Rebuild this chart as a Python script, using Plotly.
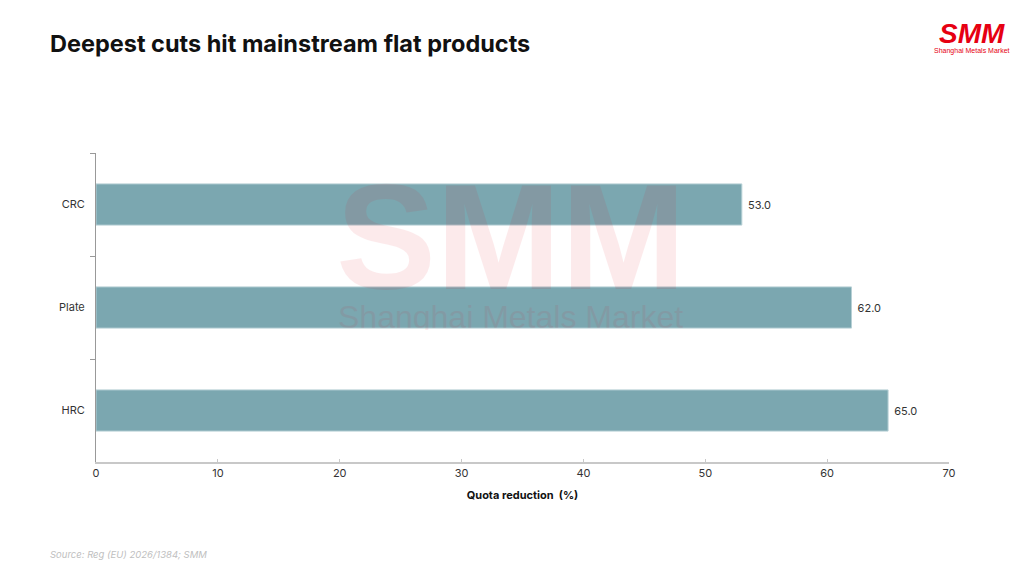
import plotly.graph_objects as go

# Daten (von oben nach unten)
products = ["CRC", "Plate", "HRC"]
cuts = [53.0, 62.0, 65.0]
x_ticks = [0, 10, 20, 30, 40, 50, 60, 70]

TITLE = "Deepest cuts hit mainstream flat products"
SOURCE = "Source: Reg (EU) 2026/1384; SMM"
BAR_COLOR = "#7ba7b0"
RED = "#e60012"
FONT = "Inter, Noto Sans, sans-serif"
OFF = 8  # Seitenrand des Browsers ausgleichen

fig = go.Figure()

fig.add_trace(go.Bar(
    y=products, x=cuts, orientation="h",
    width=0.4,
    marker=dict(color=BAR_COLOR, line=dict(color="#b7d0d5", width=1)),
    text=[f" {v:.1f}" for v in cuts],
    textposition="outside",
    textfont=dict(size=11, color="#333333", family=FONT),
    cliponaxis=False,
    hoverinfo="skip",
))

# --- Wasserzeichen ---
fig.add_annotation(
    text="<b>SMM</b>", xref="paper", yref="paper", x=0.4865, y=0.728,
    yanchor="middle", height=110, valign="middle",
    showarrow=False, opacity=0.08,
    font=dict(size=150, color=RED, family="Liberation Sans"),
)
fig.add_annotation(
    text="Shanghai Metals Market", xref="paper", yref="paper", x=0.4865, y=0.47,
    yanchor="middle", height=26, valign="middle",
    showarrow=False, opacity=0.07,
    font=dict(size=32, color=RED, family="Liberation Sans"),
)

# --- Logo oben rechts ---
fig.add_annotation(
    text="<b><i>SMM</i></b>", xref="paper", yref="paper",
    x=1.0, y=1.0, xanchor="center", yanchor="middle",
    xshift=972 - 949, yshift=153 - 33,
    showarrow=False, font=dict(size=28, color=RED, family="Liberation Sans"),
)
fig.add_annotation(
    text="Shanghai Metals Market", xref="paper", yref="paper",
    x=1.0, y=1.0, xanchor="center", yanchor="middle",
    xshift=972 - 949, yshift=153 - 51,
    showarrow=False, font=dict(size=7, color=RED, family="Liberation Sans"),
)

# --- Quelle ---
fig.add_annotation(
    text=f"<i>{SOURCE}</i>", xref="paper", yref="paper",
    x=0, y=0, xanchor="left", yanchor="middle",
    xshift=48 - 96, yshift=-(554 - 462),
    showarrow=False, font=dict(size=9.5, color="#c0c0c0", family=FONT),
)

fig.update_layout(
    width=1024, height=576,
    paper_bgcolor="white", plot_bgcolor="white",
    margin=dict(l=96 - OFF, r=75 + OFF, t=153 - OFF, b=114 + OFF),
    showlegend=False,
    title=dict(
        text=f"<b>{TITLE}</b>", x=(50 - OFF) / 1024, xanchor="left",
        y=1 - (44 - OFF) / 576, yanchor="middle",
        font=dict(size=23.5, color="#111111", family=FONT),
    ),
    font=dict(family=FONT, color="#333333"),
)

fig.update_xaxes(
    range=[0, 70], tickvals=x_ticks, showgrid=False, zeroline=False,
    showline=True, linecolor="#c8c8c8", linewidth=2,
    ticks="inside", ticklen=3, tickcolor="#c8c8c8",
    tickfont=dict(size=11, color="#333333"),
    title=dict(text="<b>Quota reduction  (%)</b>", font=dict(size=11, color="#111111"), standoff=12),
)
fig.update_yaxes(
    autorange="reversed", showgrid=False, zeroline=False,
    showline=True, linecolor="#999999", linewidth=1,
    ticks="outside", tickson="boundaries", ticklen=5, tickcolor="#999999",
    tickfont=dict(size=11, color="#333333"), ticklabelstandoff=8,
)

fig.write_html("out.html")
